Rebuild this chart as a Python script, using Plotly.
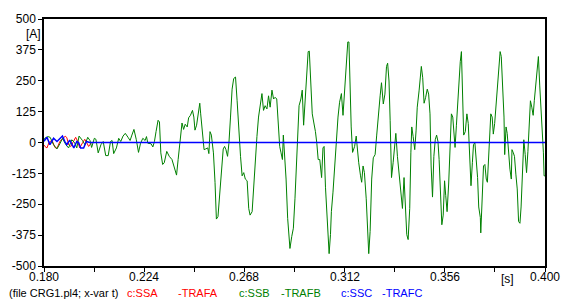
import plotly.graph_objects as go

# ---- data (time in s, current in A) ----
green_t_ms = [180.0,180.3,181.7,182.7,184.2,185.7,187.1,188.1,189.6,190.8,192.2,193.4,194.4,195.4,196.9,198.0,199.2,200.2,200.9,
202.1,202.8,203.8,205.0,206.0,207.1,208.2,209.2,209.9,210.6,211.8,212.8,213.7,214.7,215.7,216.9,217.8,218.6,219.5,220.5,221.5,
222.4,223.4,224.4,225.0,225.6,227.0,227.8,228.5,229.2,230.1,230.7,231.3,232.1,232.8,233.9,235.0,236.2,237.2,238.2,238.9,239.8,
240.6,241.3,242.0,242.9,243.5,244.3,245.2,245.8,246.3,247.0,247.7,248.4,248.8,249.6,250.3,251.0,251.9,252.4,252.9,253.5,254.4,
255.1,255.7,256.4,257.1,258.0,258.7,259.3,259.9,260.6,261.2,261.9,262.6,263.3,264.1,264.8,265.5,266.3,267.0,267.7,268.4,269.2,
269.9,270.5,271.4,272.1,272.8,273.5,274.2,275.0,275.7,276.4,277.1,277.9,278.6,279.3,280.1,280.8,281.5,282.2,282.9,283.5,284.1,
284.7,285.1,285.6,286.3,287.0,287.6,288.0,288.8,289.5,290.2,291.0,291.4,292.0,292.8,293.4,294.0,294.6,295.3,296.0,296.5,297.1,
297.8,298.5,299.2,299.8,300.4,301.1,301.9,302.5,303.0,303.6,304.2,304.7,305.2,305.8,306.2,306.9,307.6,308.4,309.1,309.8,310.6,
311.3,312.0,312.7,313.4,313.9,314.3,314.9,315.5,316.4,317.1,317.5,318.2,319.0,319.5,320.1,320.7,321.5,322.2,322.6,323.2,323.9,
324.6,325.4,326.1,326.8,327.6,328.2,329.0,329.7,330.4,330.9,331.5,332.0,332.6,333.3,333.9,334.5,335.2,336.0,336.7,337.4,338.1,
338.7,339.3,339.9,340.6,341.1,341.5,342.1,342.8,343.4,343.9,344.7,345.2,345.7,346.3,346.9,347.6,348.3,348.9,349.5,350.0,350.6,
351.2,351.8,352.4,353.0,353.5,354.1,354.7,355.3,355.9,356.4,357.0,357.7,358.2,358.5,358.9,359.5,359.9,360.5,361.1,361.7,362.2,
362.8,363.3,363.7,364.3,365.0,365.7,366.3,366.9,367.5,368.1,368.6,369.2,369.8,370.4,370.9,371.6,371.8,372.4,373.0,373.6,374.2,
374.7,375.3,375.6,376.2,376.8,377.3,377.9,378.5,379.1,379.7,380.3,380.8,381.4,382.0,382.3,382.9,383.4,384.0,384.6,385.2,385.5,
386.1,386.6,387.2,387.8,388.4,389.0,389.5,390.1,390.7,391.3,391.9,392.5,393.0,393.6,394.2,394.8,395.3,395.9,396.5,397.1,397.7,
398.3,398.8,399.3,399.6,400.0]
green_a = [10,17,24,21,-9,-26,-3,17,-9,-22,11,0,-22,26,8,-9,21,8,-20,
17,13,-42,-9,4,-53,-53,4,8,-45,-22,17,4,26,37,21,8,30,53,13,-40,
-3,17,8,24,-3,-5,-18,4,44,90,83,-42,-89,-82,-36,-56,-69,-102,-132,-69,11,
79,53,74,63,100,110,130,103,50,70,123,159,116,50,-29,-26,-22,-45,44,30,-42,
-161,-310,-300,-208,-122,-26,-16,-29,-56,-3,103,216,259,265,169,44,-56,-135,-122,-148,-155,
-267,-294,-280,-168,-95,24,103,149,198,130,149,136,189,143,212,176,183,176,63,-16,-42,
-69,30,-29,-148,-307,-400,-429,-380,-347,-228,-56,83,149,176,212,70,156,255,368,370,222,
116,79,44,-3,-69,-69,-142,-22,-16,-181,-294,-380,-450,-373,-280,-201,-102,4,103,163,198,
110,202,288,407,407,262,63,-40,-16,26,-29,-82,-135,-161,-95,-122,-228,-360,-450,-360,-148,
-62,-49,30,116,189,242,156,196,308,321,249,90,-142,-82,-29,37,-56,-135,-214,-267,-142,
-241,-373,-393,-267,-42,63,24,-29,50,143,209,265,308,262,159,183,216,196,116,-95,-221,
-56,11,30,4,-69,-188,-333,-294,-155,-214,-280,-168,-69,30,116,103,30,-20,70,169,275,
328,368,183,30,44,116,77,-69,-175,-82,-9,0,-82,-142,-261,-304,-366,-201,-95,-89,-148,
-161,-56,24,116,103,34,77,156,222,315,368,348,222,103,-49,63,37,-56,-108,-148,-29,
-42,-56,-128,-188,-320,-327,-261,-135,11,-49,-122,-36,50,169,143,110,169,236,288,348,229,
143,50,-42,-135,-135]

red_t_ms = [180.0,180.3,181.3,182.2,183.5,184.8,185.7,187.0,188.3,189.3,190.0,190.9,191.8,193.1,193.9,194.8,195.7,197.0,197.9,198.7,199.6,200.5,200.9,400.0]
red_a = [-10,-15,-22,0,10,-20,-24,5,15,26,20,-10,-16,10,21,5,-22,0,13,0,-16,-5,0,0]

blue_t_ms = [180.0,180.3,181.3,182.6,184.2,185.7,187.0,188.1,189.1,190.0,191.3,192.2,193.1,194.4,195.2,196.1,197.4,198.6,200.0,400.0]
blue_a = [5,8,21,-9,17,4,16,26,5,-9,10,-5,-22,4,0,-22,-22,4,0,0]

x_tick_vals = [0.180, 0.202, 0.224, 0.246, 0.268, 0.290, 0.312, 0.334, 0.356, 0.378, 0.400]
x_label_vals = [0.180, 0.224, 0.268, 0.312, 0.356, 0.400]
x_label_text = ["0.180", "0.224", "0.268", "0.312", "0.356", "0.400"]
y_tick_vals = [-500, -375, -250, -125, 0, 125, 250, 375, 500]
y_tick_text = ["-500", "-375", "-250", "-125", "0", "125", "250", "375", "500"]

FONT = "Arial, Liberation Sans, sans-serif"

fig = go.Figure()
fig.add_trace(go.Scatter(x=[t / 1000 for t in red_t_ms], y=red_a, mode="lines",
                         line=dict(color="#ff0000", width=1), hoverinfo="skip"))
fig.add_trace(go.Scatter(x=[t / 1000 for t in green_t_ms], y=green_a, mode="lines",
                         line=dict(color="#008000", width=1), hoverinfo="skip"))
fig.add_trace(go.Scatter(x=[t / 1000 for t in blue_t_ms], y=blue_a, mode="lines",
                         line=dict(color="#0000ff", width=1.5), hoverinfo="skip"))

L, R, T, B = 40, 22, 14, 36
W, H = 567, 302
pw, ph = W - L - R, H - T - B

def px(xp):
    return (xp - L) / pw

def py(yp):
    return (H - B - yp) / ph

ann = []
for v, txt in zip(x_label_vals, x_label_text):
    ann.append(dict(text=txt, x=v, xref="x", y=py(277), yref="paper",
                    xanchor="center", yanchor="middle",
                    font=dict(color="black", size=12, family=FONT)))
ann.append(dict(text="[A]", x=px(29), xref="paper", y=py(29.5), yref="paper",
                xanchor="center", yanchor="middle",
                font=dict(color="black", size=12, family=FONT)))
ann.append(dict(text="[s]", x=px(507), xref="paper", y=py(279), yref="paper",
                xanchor="center", yanchor="middle",
                font=dict(color="black", size=12, family=FONT)))
legend_items = [("(file CRG1.pl4; x-var t)", 3, "black"),
                ("c:SSA", 122, "#ff0000"), ("-TRAFA", 173, "#ff0000"),
                ("c:SSB", 235, "#008000"), ("-TRAFB", 277, "#008000"),
                ("c:SSC", 337, "#0000ff"), ("-TRAFC", 379, "#0000ff")]
for txt, xp, col in legend_items:
    ann.append(dict(text=txt, x=px(xp), xref="paper", y=py(294), yref="paper",
                    xanchor="left", yanchor="middle",
                    font=dict(color=col, size=11, family=FONT)))
for a in ann:
    a.update(showarrow=False)

fig.update_layout(
    width=W, height=H,
    margin=dict(l=L, r=R, t=T, b=B),
    paper_bgcolor="white", plot_bgcolor="white",
    showlegend=False,
    font=dict(family=FONT, size=12, color="black"),
    annotations=ann,
    xaxis=dict(range=[0.180, 0.400], tickvals=x_tick_vals, showticklabels=False,
               showgrid=False, zeroline=False, showline=True, linecolor="black", linewidth=1.5,
               mirror=True, ticks="outside", ticklen=4, tickcolor="black", tickwidth=1),
    yaxis=dict(range=[-500, 500], tickvals=y_tick_vals, ticktext=y_tick_text,
               showgrid=False, zeroline=False, showline=True, linecolor="black", linewidth=1.5,
               mirror=True, ticks="outside", ticklen=4, tickcolor="black", tickwidth=1,
               tickfont=dict(size=12, family=FONT)),
)

fig.write_html("out.html", config={"displayModeBar": False},
               post_script="document.body.style.margin='0';document.body.style.overflow='hidden';")
